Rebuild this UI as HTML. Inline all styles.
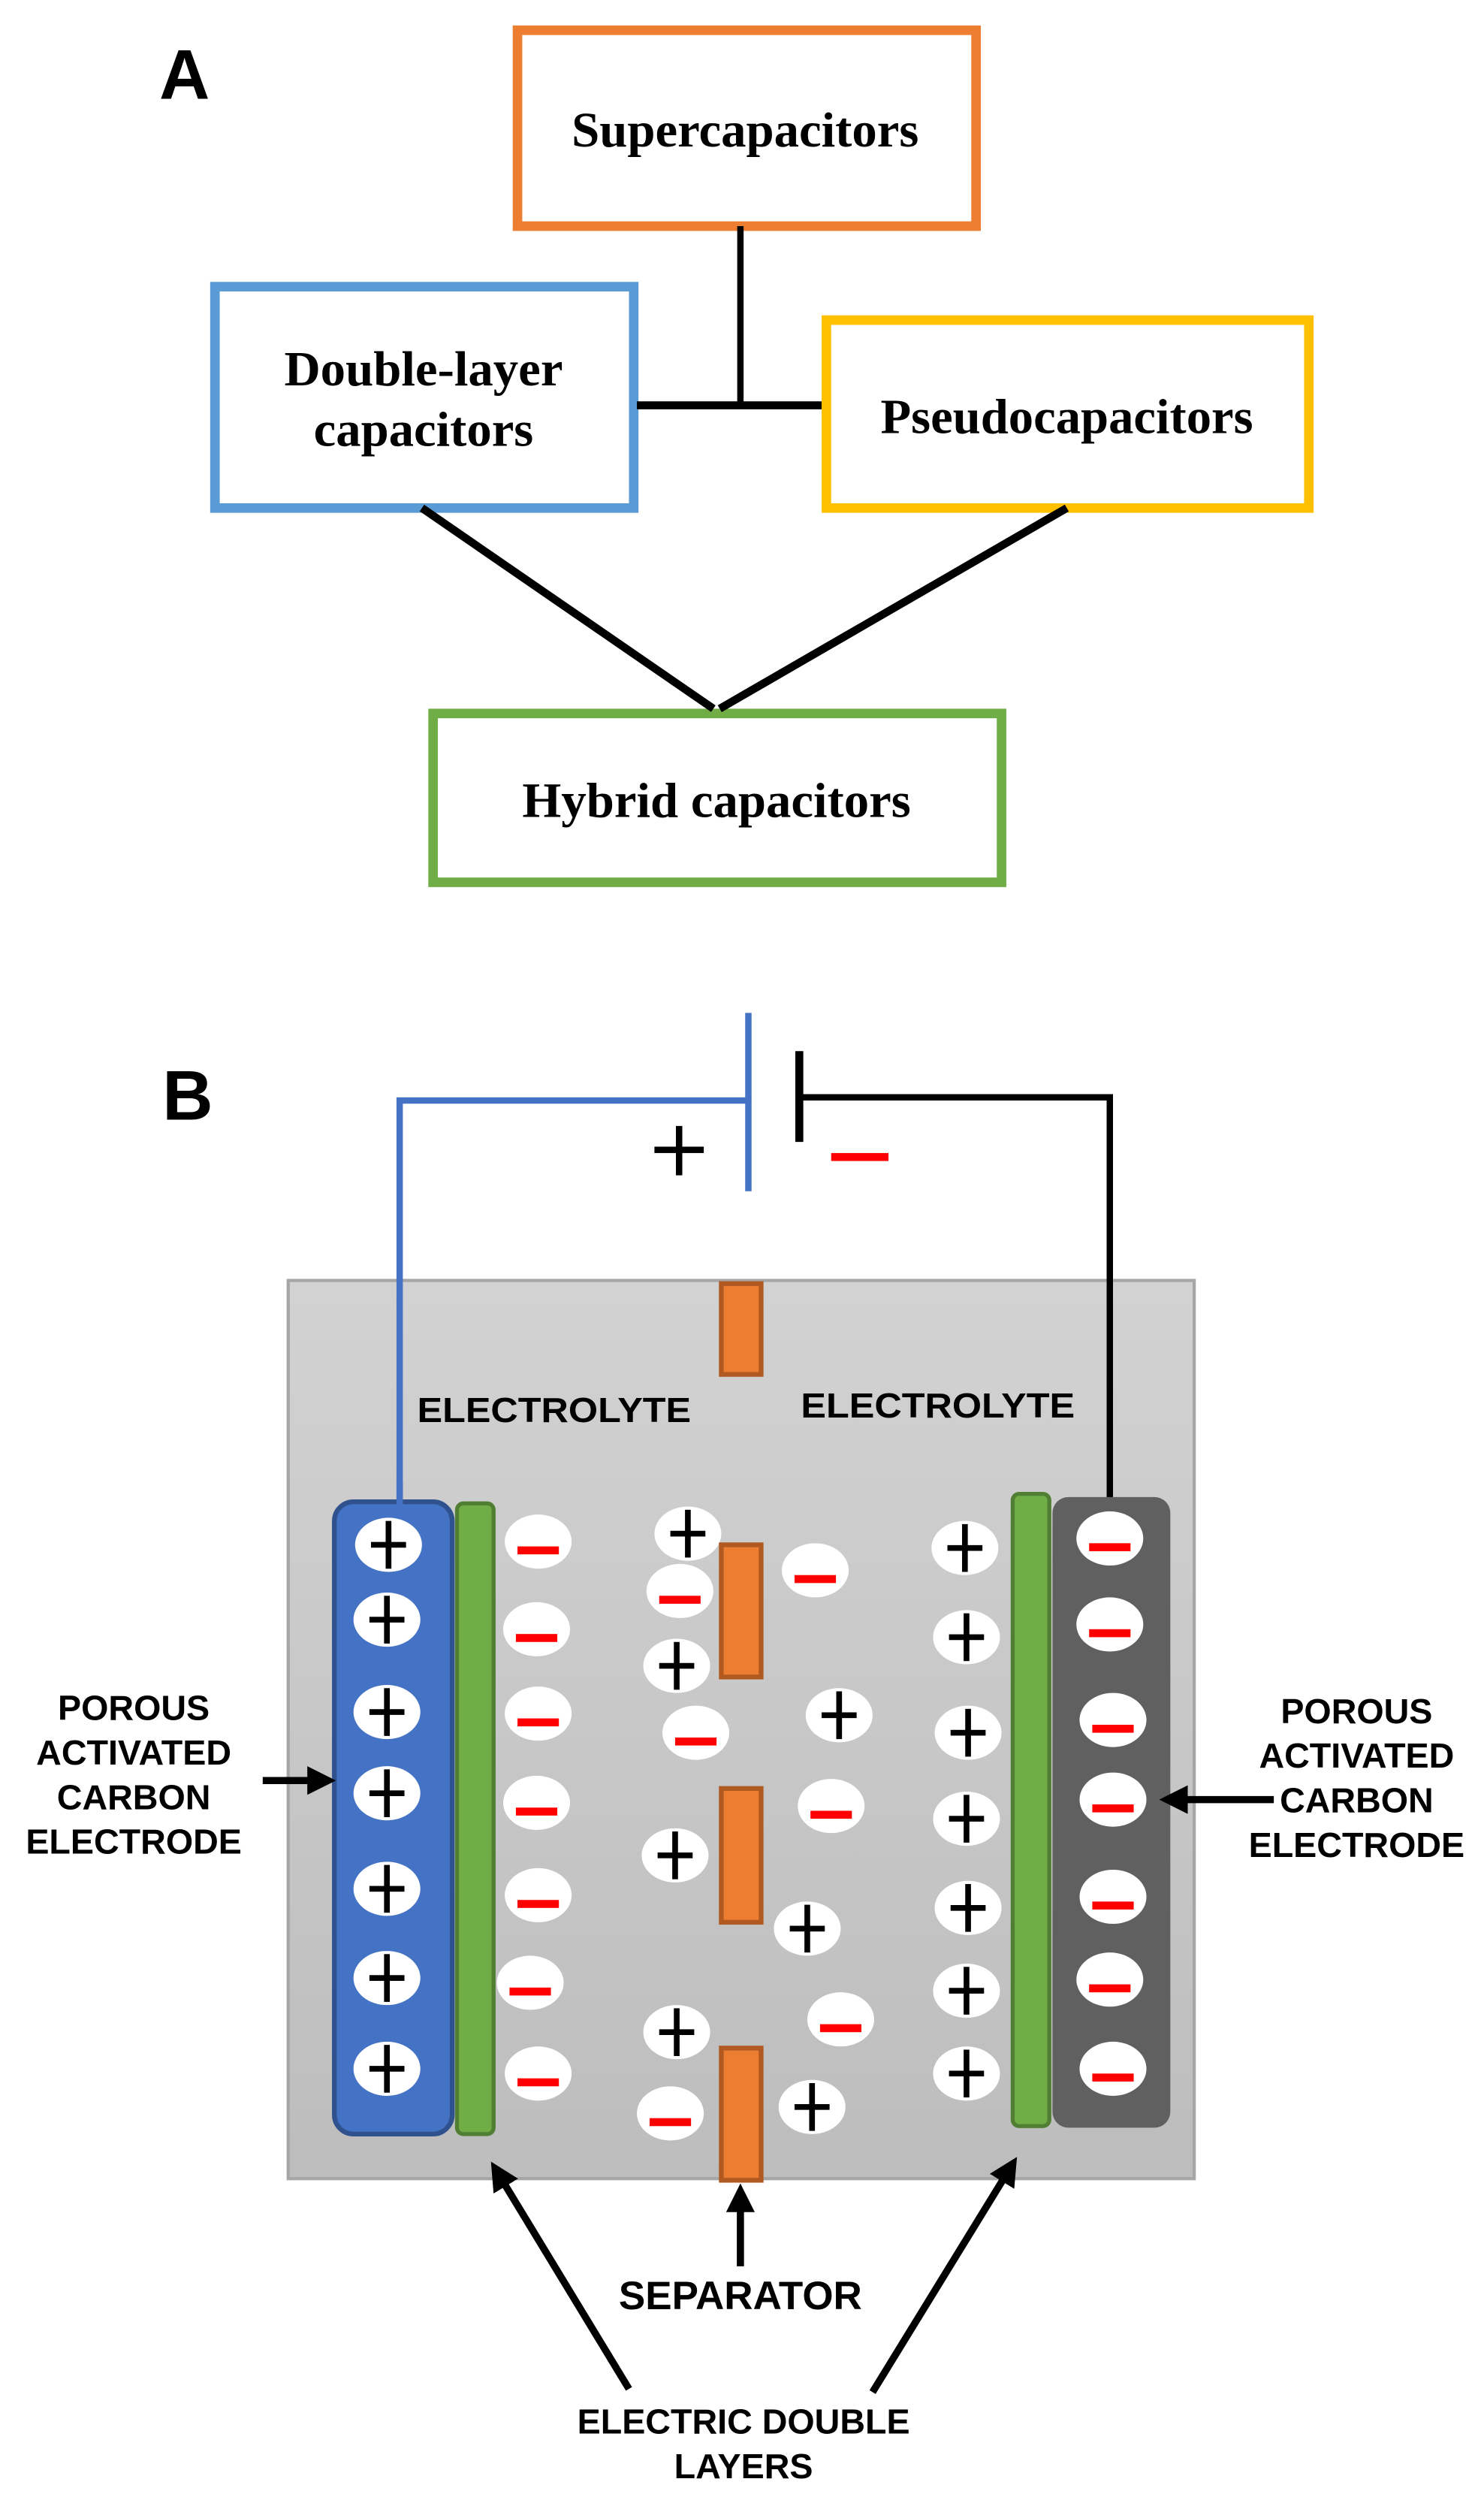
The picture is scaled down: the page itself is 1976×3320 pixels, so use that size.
<!DOCTYPE html>
<html><head><meta charset="utf-8"><style>html,body{margin:0;padding:0;background:#fff}svg{display:block}</style></head><body>
<svg width="1976" height="3320" viewBox="0 0 932 1566" preserveAspectRatio="none" xmlns="http://www.w3.org/2000/svg">
<defs>
<linearGradient id="g" x1="0" y1="0" x2="0" y2="1"><stop offset="0" stop-color="#d2d2d2"/><stop offset="1" stop-color="#bdbdbd"/></linearGradient>
<g id="p"><ellipse rx="21" ry="17" fill="#fff"/><rect x="-11" y="-1.8" width="22" height="3.6" fill="#000"/><rect x="-1.8" y="-15" width="3.6" height="30" fill="#000"/></g>
<g id="m"><ellipse rx="21" ry="17" fill="#fff"/><rect x="-13" y="3" width="26" height="5" fill="#f00"/></g>
<marker id="ah" markerWidth="4" markerHeight="4" refX="2" refY="2" orient="auto" markerUnits="strokeWidth"><path d="M0,0 L4,2 L0,4 z" fill="#000"/></marker>
</defs>
<g font-family="Liberation Sans, sans-serif" font-weight="bold">
<text x="100" y="62" font-size="44">A</text>
<text x="102" y="703" font-size="44">B</text>
</g>
<g fill="none" stroke-width="6">
<rect x="325" y="19" width="288" height="123" stroke="#ED7D31"/>
<rect x="135" y="180" width="263" height="139" stroke="#5B9BD5"/>
<rect x="519" y="201" width="303" height="118" stroke="#FFC000"/>
<rect x="272" y="448" width="357" height="106" stroke="#70AD47"/>
</g>
<g stroke="#000" fill="none">
<line x1="465" y1="142" x2="465" y2="254" stroke-width="4"/>
<line x1="400" y1="254.5" x2="516" y2="254.5" stroke-width="5"/>
<line x1="265" y1="319" x2="448" y2="445" stroke-width="5"/>
<line x1="670" y1="319" x2="452" y2="445" stroke-width="5"/>
</g>
<g font-family="Liberation Serif, serif" font-weight="bold" font-size="31" text-anchor="middle" fill="#000" lengthAdjust="spacingAndGlyphs">
<text x="468" y="92" textLength="218" lengthAdjust="spacingAndGlyphs">Supercapacitors</text>
<text x="266" y="242" textLength="175" lengthAdjust="spacingAndGlyphs">Double-layer</text>
<text x="266" y="280" textLength="138" lengthAdjust="spacingAndGlyphs">capacitors</text>
<text x="670" y="272" textLength="234" lengthAdjust="spacingAndGlyphs">Pseudocapacitors</text>
<text x="450" y="513" textLength="244" lengthAdjust="spacingAndGlyphs">Hybrid capacitors</text>
</g>
<rect x="181" y="804" width="569" height="564" fill="url(#g)" stroke="#a6a6a6" stroke-width="2"/>
<polyline points="470,691 251,691 251,946" fill="none" stroke="#4472C4" stroke-width="4"/>
<line x1="470" y1="636" x2="470" y2="748" stroke="#4472C4" stroke-width="4"/>
<polyline points="502,689 697,689 697,942" fill="none" stroke="#000" stroke-width="4"/>
<line x1="502" y1="660" x2="502" y2="717" stroke="#000" stroke-width="5"/>
<rect x="411" y="720" width="31" height="4" fill="#000"/><rect x="424.5" y="707" width="4" height="31" fill="#000"/>
<rect x="522" y="724" width="36" height="5" fill="#f00"/>
<rect x="210" y="943" width="74" height="397" rx="12" fill="#4472C4" stroke="#2F528F" stroke-width="3"/>
<rect x="287" y="944" width="23" height="396" rx="4" fill="#70AD47" stroke="#507E32" stroke-width="2.5"/>
<rect x="636" y="938" width="23" height="397" rx="4" fill="#70AD47" stroke="#507E32" stroke-width="2.5"/>
<rect x="661" y="940" width="74" height="396" rx="10" fill="#606060"/>
<line x1="251" y1="930" x2="251" y2="946" stroke="#4472C4" stroke-width="4"/>
<g>
<use href="#p" x="244" y="970"/><use href="#p" x="243" y="1017"/><use href="#p" x="243" y="1075"/><use href="#p" x="243" y="1126"/><use href="#p" x="243" y="1186"/><use href="#p" x="243" y="1242"/><use href="#p" x="243" y="1299"/>
<use href="#m" x="338" y="968"/><use href="#m" x="337" y="1023"/><use href="#m" x="338" y="1076"/><use href="#m" x="337" y="1132"/><use href="#m" x="338" y="1190"/><use href="#m" x="333" y="1245"/><use href="#m" x="338" y="1302"/>
<use href="#p" x="432" y="963"/><use href="#m" x="427" y="999"/><use href="#p" x="425" y="1046"/><use href="#m" x="437" y="1088"/><use href="#p" x="424" y="1165"/><use href="#p" x="425" y="1276"/><use href="#m" x="421" y="1327"/>
<use href="#m" x="512" y="986"/><use href="#p" x="527" y="1077"/><use href="#m" x="522" y="1134"/><use href="#p" x="507" y="1211"/><use href="#m" x="528" y="1268"/><use href="#p" x="510" y="1323"/>
<use href="#p" x="606" y="972"/><use href="#p" x="607" y="1028"/><use href="#p" x="608" y="1088"/><use href="#p" x="607" y="1142"/><use href="#p" x="608" y="1198"/><use href="#p" x="607" y="1250"/><use href="#p" x="607" y="1302"/>
<use href="#m" x="697" y="966"/><use href="#m" x="697" y="1020"/><use href="#m" x="699" y="1080"/><use href="#m" x="699" y="1130"/><use href="#m" x="699" y="1191"/><use href="#m" x="697" y="1243"/><use href="#m" x="699" y="1299"/>
</g>
<g fill="#ED7D31" stroke="#B05A22" stroke-width="3">
<rect x="453" y="806" width="25" height="57"/>
<rect x="453" y="970" width="25" height="83"/>
<rect x="453" y="1123" width="25" height="84"/>
<rect x="453" y="1286" width="25" height="83"/>
</g>
<g font-family="Liberation Sans, sans-serif" font-weight="bold" font-size="22" fill="#000" text-anchor="middle">
<text x="348" y="893" textLength="172" lengthAdjust="spacingAndGlyphs">ELECTROLYTE</text>
<text x="589" y="890" textLength="172" lengthAdjust="spacingAndGlyphs">ELECTROLYTE</text>
<text x="84" y="1080">POROUS</text><text x="84" y="1108">ACTIVATED</text><text x="84" y="1136">CARBON</text><text x="84" y="1164">ELECTRODE</text>
<text x="852" y="1082">POROUS</text><text x="852" y="1110">ACTIVATED</text><text x="852" y="1138">CARBON</text><text x="852" y="1166">ELECTRODE</text>
<text x="465" y="1450" font-size="25">SEPARATOR</text>
<text x="467" y="1528">ELECTRIC DOUBLE</text>
<text x="467" y="1556">LAYERS</text>
</g>
<g stroke="#000" stroke-width="4.5" fill="none" marker-end="url(#ah)">
<line x1="165" y1="1118" x2="202" y2="1118"/>
<line x1="800" y1="1130" x2="737" y2="1130"/>
<line x1="465" y1="1423" x2="465" y2="1380"/>
<line x1="395" y1="1500" x2="313" y2="1365"/>
<line x1="548" y1="1502" x2="634" y2="1362"/>
</g>
</svg>
</body></html>
